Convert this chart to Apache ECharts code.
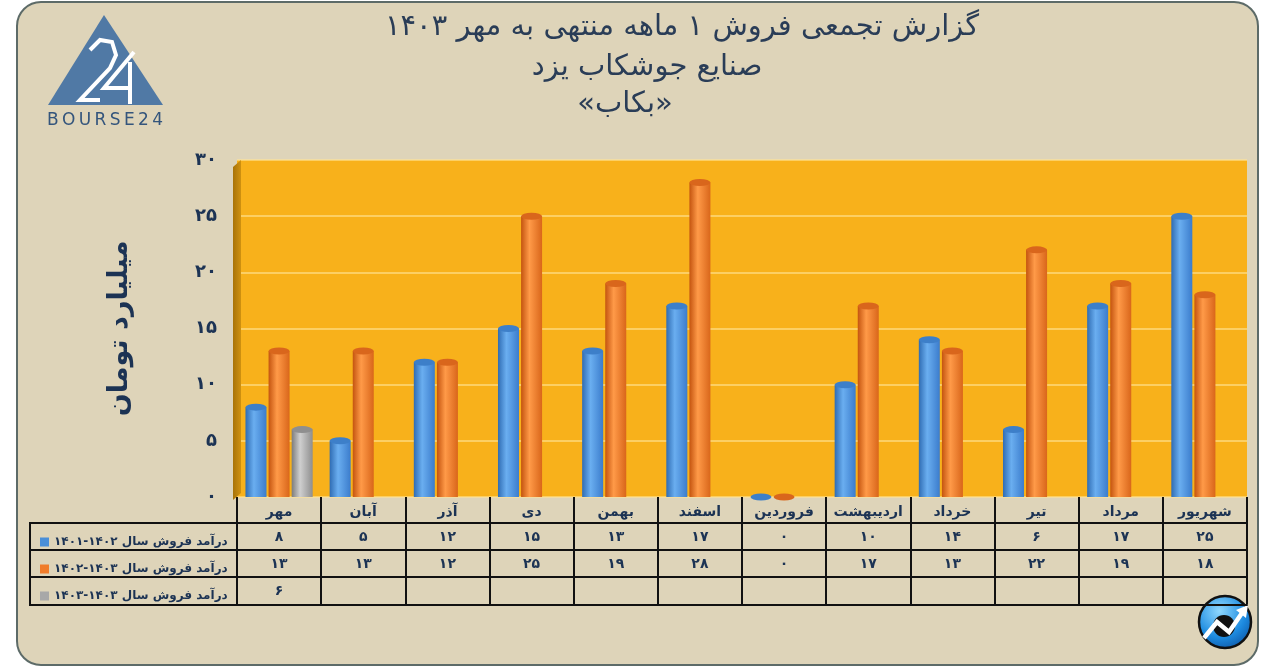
<!DOCTYPE html>
<html>
<head>
<meta charset="utf-8">
<script src="https://cdn.jsdelivr.net/npm/echarts@6/dist/echarts.min.js"></script>
<style>
html,body{margin:0;padding:0;background:#ffffff;}
#c{width:1271px;height:669px;}
</style>
</head>
<body>
<div id="c" dir="rtl"></div>
<script>
// ---- data ----
const categories = ['مهر','آبان','آذر','دی','بهمن','اسفند','فروردین','اردیبهشت','خرداد','تیر','مرداد','شهریور'];
const seriesNames = ['درآمد فروش سال \u2066۱۴۰۱-۱۴۰۲\u2069','درآمد فروش سال \u2066۱۴۰۲-۱۴۰۳\u2069','درآمد فروش سال \u2066۱۴۰۳-۱۴۰۳\u2069'];
const sales1401_1402 = [8,5,12,15,13,17,0,10,14,6,17,25];
const sales1402_1403 = [13,13,12,25,19,28,0,17,13,22,19,18];
const sales1403 = [6,null,null,null,null,null,null,null,null,null,null,null];
const yTickLabels = ['۰','۵','۱۰','۱۵','۲۰','۲۵','۳۰'];
const titleLines = ['گزارش تجمعی فروش ۱ ماهه منتهی به مهر ۱۴۰۳','صنایع جوشکاب یزد','«بکاب»'];
const yAxisName = 'میلیارد تومان';

const toFa = v => (v === null || v === undefined) ? '' : String(v).replace(/\d/g, d => '۰۱۲۳۴۵۶۷۸۹'[d]);

const navy = '#1c3354';
const font = 'DejaVu Sans';

function grad(c0, c1, c2) {
  return new echarts.graphic.LinearGradient(0, 0, 1, 0, [
    {offset: 0, color: c0}, {offset: 0.4, color: c1}, {offset: 1, color: c2}
  ]);
}
const barColors = [
  grad('#2f6cb3', '#6aaef0', '#3b7ccc'),
  grad('#c4540f', '#ff9a48', '#d9661a'),
  grad('#7c7c7c', '#cfcfcf', '#8e8e8e')
];
const topColors = ['#3d7fc9', '#d9661c', '#8f8f8f'];
const solidColors = ['#4a8fd8', '#f07c2a', '#a8a8a8'];
const dataSets = [sales1401_1402, sales1402_1403, sales1403];

const barW = 21, barGap = '10%';
const series = [];
dataSets.forEach((d, i) => {
  series.push({
    name: seriesNames[i], type: 'bar', xAxisIndex: 0, data: d,
    barWidth: barW, barGap: barGap,
    itemStyle: {color: barColors[i]}, z: 2
  });
});
dataSets.forEach((d, i) => {
  series.push({
    name: seriesNames[i], type: 'pictorialBar', xAxisIndex: 0, data: d,
    barWidth: barW, barGap: barGap,
    symbol: 'circle', symbolSize: [barW, 7], symbolPosition: 'end', symbolOffset: [0, '-50%'],
    itemStyle: {color: topColors[i]}, z: 3, silent: true
  });
});

const tickLine = {show: true, interval: 0, length: 27, lineStyle: {color: '#111', width: 2}};
const rowLabel = {interval: 0, color: navy, fontFamily: font, fontWeight: 'bold', fontSize: 14, margin: 7};

function rowAxis(dataArr, offset, showLabel) {
  return {
    type: 'category', position: 'bottom', offset: offset, data: dataArr, boundaryGap: true,
    axisLine: {show: true, lineStyle: {color: '#111', width: 2}},
    axisTick: showLabel ? tickLine : {show: false},
    axisLabel: Object.assign({show: showLabel}, rowLabel),
    splitLine: {show: false}
  };
}

const titleStyle = {fontFamily: font, fontSize: 29, fontWeight: 'normal', color: '#2a3d57'};

const chart = echarts.init(document.getElementById('c'));
chart.setOption({
  backgroundColor: '#ffffff',
  animation: false,
  title: [
    {text: titleLines[0], left: 677, top: 8, textAlign: 'center', textStyle: titleStyle},
    {text: titleLines[1], left: 642, top: 48, textAlign: 'center', textStyle: titleStyle},
    {text: titleLines[2], left: 620, top: 85, textAlign: 'center', textStyle: titleStyle}
  ],
  legend: {
    orient: 'vertical', left: 35, top: 530, itemGap: 13, itemWidth: 9, itemHeight: 9,
    icon: 'rect', selectedMode: false,
    textStyle: {color: navy, fontFamily: font, fontWeight: 'bold', fontSize: 12, lineHeight: 14},
    data: seriesNames.map((n, i) => ({name: n, itemStyle: {color: solidColors[i]}}))
  },
  grid: {left: 237, right: 24, top: 160, bottom: 172, show: true, backgroundColor: '#f8b11b', borderWidth: 0},
  xAxis: [
    {
      type: 'category', position: 'bottom', data: categories, boundaryGap: true,
      axisLine: {show: false},
      axisTick: {show: true, interval: 0, length: 26, lineStyle: {color: '#111', width: 2}},
      axisLabel: Object.assign({}, rowLabel, {margin: 8}),
      splitLine: {show: false}
    },
    rowAxis(sales1401_1402.map(toFa), 26, true),
    rowAxis(sales1402_1403.map(toFa), 53, true),
    rowAxis(sales1403.map(toFa), 80, true),
    rowAxis(categories.map(() => ''), 108, false)
  ],
  yAxis: {
    type: 'value', min: 0, max: 30, interval: 5,
    name: yAxisName, nameLocation: 'middle', nameRotate: 90, nameGap: 104,
    nameTextStyle: {fontFamily: font, fontSize: 27, fontWeight: 'bold', color: navy},
    axisLine: {show: false}, axisTick: {show: false},
    axisLabel: {color: navy, fontFamily: font, fontWeight: 'bold', fontSize: 18, margin: 20,
      formatter: v => yTickLabels[Math.round(v / 5)]},
    splitLine: {lineStyle: {color: 'rgba(255,228,150,0.8)', width: 1.5}}
  },
  graphic: [
    {type: 'rect', z: -10, silent: true, shape: {x: 17, y: 2, width: 1241, height: 663, r: 24},
      style: {fill: '#ded4b9', stroke: '#5d6b68', lineWidth: 2}},
    // left side wall
    {type: 'polygon', z: 1, silent: true, shape: {points: [[233, 167], [241, 160], [241, 493], [233, 500]]},
      style: {fill: new echarts.graphic.LinearGradient(0, 0, 1, 0, [{offset: 0, color: '#a87308'}, {offset: 1, color: '#cf9110'}])}},
    // table left column lines
    {type: 'line', silent: true, shape: {x1: 30, y1: 523, x2: 237, y2: 523}, style: {stroke: '#111', lineWidth: 2}},
    {type: 'line', silent: true, shape: {x1: 30, y1: 550, x2: 237, y2: 550}, style: {stroke: '#111', lineWidth: 2}},
    {type: 'line', silent: true, shape: {x1: 30, y1: 577, x2: 237, y2: 577}, style: {stroke: '#111', lineWidth: 2}},
    {type: 'line', silent: true, shape: {x1: 30, y1: 605, x2: 237, y2: 605}, style: {stroke: '#111', lineWidth: 2}},
    {type: 'line', silent: true, shape: {x1: 30, y1: 522, x2: 30, y2: 606}, style: {stroke: '#111', lineWidth: 2}},
    // logo top-left
    {type: 'polygon', silent: true, shape: {points: [[48, 105], [104, 15], [163, 105]]}, style: {fill: '#5079a5'}},
    {type: 'polyline', silent: true, shape: {points: [[90, 50], [100, 40], [112, 42], [116, 55], [110, 68], [80, 100], [100, 100]]},
      style: {stroke: '#ffffff', lineWidth: 4, fill: null}},
    {type: 'polyline', silent: true, shape: {points: [[134, 52], [104, 88], [132, 88]]},
      style: {stroke: '#ffffff', lineWidth: 4, fill: null}},
    {type: 'line', silent: true, shape: {x1: 130, y1: 62, x2: 130, y2: 104}, style: {stroke: '#ffffff', lineWidth: 4}},
    {type: 'text', silent: true, x: 105, y: 121, style: {text: 'B\u2009O\u2009U\u2009R\u2009S\u2009E\u20092\u20094', fill: '#34557c', font: '17px "DejaVu Sans"', align: 'center', verticalAlign: 'middle'}},
    // logo bottom-right
    {type: 'circle', silent: true, shape: {cx: 1225, cy: 622, r: 26},
      style: {fill: new echarts.graphic.RadialGradient(0.4, 0.3, 0.8, [{offset: 0, color: '#8fd8ff'}, {offset: 0.6, color: '#1d8be0'}, {offset: 1, color: '#0b4f9c'}]), stroke: '#111', lineWidth: 2.5}},
    {type: 'circle', silent: true, shape: {cx: 1224, cy: 626, r: 11}, style: {fill: '#111'}},
    {type: 'polyline', silent: true, shape: {points: [[1204, 638], [1217, 622], [1229, 632], [1242, 613]]},
      style: {stroke: '#ffffff', lineWidth: 4.5, fill: null}},
    {type: 'polygon', silent: true, shape: {points: [[1236, 610], [1248, 605], [1246, 618]]}, style: {fill: '#ffffff'}}
  ],
  series: series
});
</script>
</body>
</html>
